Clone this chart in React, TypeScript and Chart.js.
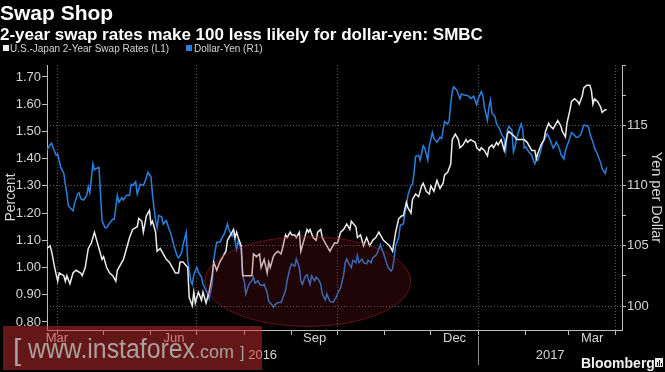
import React, { useEffect, useRef } from 'react';
import Chart from 'chart.js/auto';

const TITLE = 'Swap Shop';
const SUBTITLE = '2-year swap rates make 100 less likely for dollar-yen: SMBC';
const SWAP_NAME = 'U.S.-Japan 2-Year Swap Rates (L1)';
const YEN_NAME = 'Dollar-Yen (R1)';
const LEFT_TITLE = 'Percent';
const RIGHT_TITLE = 'Yen per Dollar';

// x values are days since 25 Mar 2016
const swapDays = [0,2,3,5,7,8,11,12,13,15,17,19,22,23,25,27,29,31,32,34,36,37,39,41,43,45,46,49,50,52,54,56,59,60,62,63,65,67,68,69,71,72,74,76,78,80,82,84,86,87,89,92,93,95,96,97,99,101,102,104,106,108,109,111,113,115,117,118,120,122,123,124,125,127,128,130,133,134,135,137,139,140,142,144,145,146,148,149,151,153,154,156,157,159,160,162,163,165,166,168,170,171,172,174,176,177,179,180,182,183,185,188,190,192,194,196,198,199,202,203,205,207,209,211,213,215,217,220,222,224,226,228,230,232,233,235,236,238,239,241,243,245,246,248,250,251,253,255,257,259,260,262,264,265,267,269,270,272,274,275,277,280,281,283,284,286,288,289,291,292,294,295,297,298,299,301,302,304,306,307,309,310,312,314,315,317,319,320,321,323,325,326,328,329,331,332,334,336,337,339,340,342,343,345,347,348,350,351,353,355,356,357,358,360,362,363,365,366];
const swapVals = [1.07,1.08,1.06,1.00,0.95,0.98,0.97,0.95,0.97,0.94,0.98,0.99,0.98,0.97,1.00,1.07,1.09,1.13,1.11,1.07,1.03,1.04,1.00,0.98,0.97,0.95,0.99,1.02,1.03,1.07,1.11,1.14,1.15,1.18,1.17,1.13,1.19,1.21,1.16,1.17,1.13,1.06,1.07,1.05,1.03,1.02,1.00,0.98,0.98,1.02,1.02,1.00,0.89,0.86,0.91,0.87,0.91,0.88,0.91,0.87,0.91,0.97,1.02,0.99,1.02,1.04,1.06,1.10,1.12,1.14,1.11,1.13,1.11,1.08,0.97,0.97,0.97,0.97,1.05,1.04,1.05,1.00,1.03,0.98,1.02,1.00,1.04,1.05,1.06,1.05,1.07,1.12,1.11,1.13,1.12,1.12,1.11,1.13,1.06,1.10,1.14,1.13,1.14,1.11,1.10,1.13,1.14,1.11,1.09,1.08,1.06,1.09,1.09,1.13,1.14,1.16,1.14,1.17,1.15,1.11,1.12,1.08,1.11,1.08,1.10,1.11,1.13,1.10,1.09,1.08,1.06,1.13,1.18,1.19,1.19,1.24,1.22,1.20,1.25,1.27,1.26,1.30,1.31,1.28,1.27,1.30,1.28,1.32,1.29,1.31,1.34,1.35,1.38,1.47,1.49,1.47,1.44,1.45,1.47,1.46,1.47,1.46,1.44,1.43,1.44,1.43,1.41,1.44,1.45,1.44,1.46,1.45,1.47,1.45,1.43,1.49,1.50,1.49,1.48,1.47,1.47,1.47,1.47,1.46,1.45,1.43,1.43,1.40,1.42,1.45,1.47,1.50,1.53,1.52,1.51,1.52,1.54,1.52,1.50,1.48,1.53,1.58,1.61,1.62,1.61,1.60,1.63,1.66,1.67,1.67,1.65,1.60,1.62,1.61,1.59,1.57,1.58,1.58];

const yenDays = [0,1,3,5,6,7,9,11,12,13,14,17,18,20,21,22,24,26,27,28,30,31,32,34,35,36,38,39,41,43,44,46,47,49,50,52,54,55,56,58,59,61,63,64,66,68,69,71,72,73,75,76,78,80,81,83,85,86,88,89,91,92,94,95,96,98,99,101,102,104,105,106,108,109,110,111,113,115,116,118,119,121,122,124,125,127,128,129,130,132,134,135,136,138,139,141,142,144,145,147,148,149,151,153,154,156,157,159,160,162,163,165,166,167,169,170,172,173,175,176,178,179,180,182,183,185,187,189,191,192,194,195,196,197,199,200,202,203,204,206,207,209,210,212,213,215,216,218,219,220,222,223,225,226,227,228,230,231,233,234,235,236,238,239,240,241,243,244,246,247,249,250,252,253,255,257,258,260,262,263,264,265,266,268,270,271,273,274,276,277,279,281,282,284,285,286,288,289,290,291,293,294,296,297,299,300,301,302,304,305,306,307,308,310,311,312,313,315,317,318,319,320,321,323,324,326,327,329,331,332,333,335,336,338,339,341,343,344,346,347,349,351,352,354,355,357,358,360,362,363,365,366];
const yenVals = [112.9,113.2,113.5,112.8,112.5,112.6,111.5,111.0,110.1,109.3,108.3,107.9,108.5,109.3,109.4,108.9,108.8,109.2,109.9,109.4,111.8,111.3,111.4,111.5,109.3,107.1,106.5,106.5,106.9,107.2,107.2,109.2,108.6,109.0,108.8,109.2,109.2,110.1,110.0,110.3,109.3,110.1,110.0,110.3,111.1,110.7,109.2,107.1,106.5,107.5,107.4,106.8,107.1,106.3,106.0,105.0,104.2,104.0,104.4,105.1,106.1,103.8,102.1,101.8,102.6,103.2,102.8,102.4,101.8,101.3,101.0,100.6,101.8,103.8,104.6,105.3,105.3,105.8,106.0,106.8,106.3,105.8,106.1,104.7,105.4,104.7,102.4,102.1,101.0,101.8,102.1,102.4,101.9,102.1,101.8,101.7,101.8,101.1,100.4,100.1,99.9,100.1,100.3,100.3,100.6,101.3,102.1,103.2,103.5,103.3,103.9,103.2,102.1,101.8,102.5,102.6,101.8,102.5,102.1,102.4,102.1,101.8,101.0,100.5,101.0,100.4,100.3,100.7,101.3,101.5,102.6,103.6,103.9,103.6,103.2,103.8,103.6,104.2,103.6,103.9,103.6,103.5,103.8,103.6,104.0,104.2,104.4,105.1,104.7,104.4,103.6,103.2,102.9,103.1,104.0,105.0,105.7,106.7,106.8,107.6,108.3,109.2,110.0,110.1,111.0,112.4,112.5,112.1,113.3,113.1,112.1,113.3,114.4,113.9,113.6,114.0,113.9,115.3,115.1,115.4,116.8,117.8,118.2,117.9,117.2,117.6,117.5,117.5,117.4,117.2,117.4,116.7,117.2,117.8,117.5,116.5,115.4,116.5,117.1,116.0,115.7,115.1,114.7,114.3,113.9,112.9,114.6,114.9,114.6,112.8,113.2,113.9,114.3,115.1,114.7,113.1,113.2,112.8,112.5,112.1,111.8,112.2,112.1,112.9,113.5,114.0,114.3,113.8,113.1,113.3,113.6,113.1,112.6,112.2,112.9,113.6,114.4,114.3,114.0,114.0,114.2,115.0,115.0,114.9,114.3,113.6,113.1,112.6,111.9,111.4,111.0,111.5];

// axis layout values
const X_MIN = 0;
const X_MAX = 376;
const monthStartDays = [7, 37, 68, 98, 129, 160, 190, 221, 251, 282, 313, 341, 372];
const quarterStartDays = [7, 98, 190, 282, 372];
const monthLabels = ['Mar', 'Jun', 'Sep', 'Dec', 'Mar'];
const monthLabelDays = [6.5, 83, 175, 266.5, 356.5];
const yearLabels = ['2016', '2017'];
const yearStartDays = [0, 282];

const leftTicks = [0.8, 0.9, 1.0, 1.1, 1.2, 1.3, 1.4, 1.5, 1.6, 1.7];
const LEFT_MIN = 0.7706;
const LEFT_MAX = 1.744;
const rightTicks = [100, 102.5, 105, 107.5, 110, 112.5, 115, 117.5, 120];
const rightLabelled = [100, 105, 110, 115];
const RIGHT_MIN = 98.01;
const RIGHT_MAX = 120;

// highlighted region (x in days, y in percent)
const HIGHLIGHT = { day: 170.5, halfDays: 67.3, pct: 0.9487, halfPct: 0.165 };

const FONT = "'Liberation Sans', Arial, sans-serif";
const WHITE_LINE = '#ececec';
const BLUE_LINE = '#2b80dd';
const TEXT = '#d6d6d6';
const AXIS = '#bdbdbd';
const GRID = '#5c5c5c';

const decoPlugin = {
  id: 'deco',
  beforeDraw(chart: any) {
    const ctx = chart.ctx;
    ctx.save();
    ctx.fillStyle = '#000';
    ctx.fillRect(0, 0, chart.width, chart.height);
    ctx.restore();
  },
  afterDatasetsDraw(chart: any) {
    const ctx = chart.ctx;
    const xs = chart.scales.x;
    const ys = chart.scales.y;
    const cx = xs.getPixelForValue(HIGHLIGHT.day);
    const rx = xs.getPixelForValue(HIGHLIGHT.day + HIGHLIGHT.halfDays) - cx;
    const cy = ys.getPixelForValue(HIGHLIGHT.pct);
    const ry = cy - ys.getPixelForValue(HIGHLIGHT.pct + HIGHLIGHT.halfPct);
    ctx.save();
    ctx.beginPath();
    ctx.ellipse(cx, cy, rx, ry, 0, 0, Math.PI * 2);
    ctx.fillStyle = 'rgba(135,20,28,0.24)';
    ctx.fill();
    ctx.strokeStyle = 'rgba(150,30,36,0.6)';
    ctx.lineWidth = 1;
    ctx.stroke();
    ctx.restore();
  },
  afterDraw(chart: any) {
    const ctx = chart.ctx;
    const xs = chart.scales.x;
    ctx.save();
    // header
    ctx.fillStyle = '#ffffff';
    ctx.textBaseline = 'alphabetic';
    ctx.textAlign = 'left';
    ctx.font = `bold 21px ${FONT}`;
    ctx.fillText(TITLE, 0, 20);
    ctx.font = `bold 17px ${FONT}`;
    ctx.fillText(SUBTITLE, 0, 40);
    // legend
    ctx.font = `10px ${FONT}`;
    ctx.fillStyle = WHITE_LINE;
    ctx.fillRect(3, 45, 6, 6);
    ctx.fillStyle = TEXT;
    ctx.fillText(SWAP_NAME, 10, 52, 166);
    ctx.fillStyle = BLUE_LINE;
    ctx.fillRect(186, 45, 6, 6);
    ctx.fillStyle = TEXT;
    ctx.fillText(YEN_NAME, 194, 52, 75);
    // years
    ctx.font = `13px ${FONT}`;
    ctx.textAlign = 'center';
    ctx.textBaseline = 'middle';
    yearLabels.forEach((lab, i) => {
      const a = yearStartDays[i];
      const b = i + 1 < yearStartDays.length ? yearStartDays[i + 1] : X_MAX;
      ctx.fillText(lab, xs.getPixelForValue((a + b) / 2), 355);
    });
    for (let i = 1; i < yearStartDays.length; i++) {
      const px = Math.round(xs.getPixelForValue(yearStartDays[i])) + 0.5;
      ctx.strokeStyle = '#8a8a8a';
      ctx.lineWidth = 1;
      ctx.beginPath();
      ctx.moveTo(px, 336);
      ctx.lineTo(px, 365);
      ctx.stroke();
    }
    // Bloomberg mark
    ctx.textAlign = 'left';
    ctx.textBaseline = 'alphabetic';
    ctx.fillStyle = '#f0f0f0';
    ctx.font = `bold 14px ${FONT}`;
    ctx.fillText('Bloomberg', 581, 368);
    ctx.fillStyle = '#e8e8e8';
    ctx.fillRect(655, 358, 8, 9);
    ctx.fillStyle = '#000';
    ctx.fillRect(657, 362, 1, 4);
    ctx.fillRect(659, 360, 1, 6);
    ctx.fillRect(661, 363, 1, 3);
    // watermark
    ctx.fillStyle = 'rgba(200,45,45,0.5)';
    ctx.fillRect(3, 326, 259, 44);
    ctx.fillStyle = 'rgba(185,185,185,0.85)';
    ctx.font = `300 30px ${FONT}`;
    ctx.fillText('[', 13, 360);
    ctx.font = `27px ${FONT}`;
    ctx.fillText('www.instaforex', 28, 358, 167);
    ctx.font = `18px ${FONT}`;
    ctx.fillText('.com', 195, 358, 42);
    ctx.font = `16px ${FONT}`;
    ctx.fillText(']', 240, 358);
    ctx.restore();
  },
};

const xTickValues = [...monthStartDays, ...monthLabelDays].sort((a, b) => a - b);

export default function App() {
  const ref = useRef<HTMLCanvasElement | null>(null);
  useEffect(() => {
    document.body.style.margin = '0';
    document.body.style.background = '#000';
    const canvas = ref.current;
    if (!canvas) return;
    Chart.defaults.font.family = FONT;
    const chart = new Chart(canvas, {
      type: 'line',
      data: {
        datasets: [
          {
            label: SWAP_NAME,
            data: swapDays.map((d, i) => ({ x: d, y: swapVals[i] })),
            borderColor: WHITE_LINE,
            borderWidth: 1.5,
            pointRadius: 0,
            tension: 0,
            yAxisID: 'y',
          },
          {
            label: YEN_NAME,
            data: yenDays.map((d, i) => ({ x: d, y: yenVals[i] })),
            borderColor: BLUE_LINE,
            borderWidth: 1.5,
            pointRadius: 0,
            tension: 0,
            yAxisID: 'y1',
          },
        ],
      },
      plugins: [decoPlugin],
      options: {
        animation: false,
        responsive: false,
        devicePixelRatio: 1,
        layout: { padding: { top: 65, left: 0, right: 0, bottom: 0 } },
        plugins: { legend: { display: false }, tooltip: { enabled: false } },
        scales: {
          x: {
            type: 'linear',
            min: X_MIN,
            max: X_MAX,
            afterBuildTicks: (axis: any) => {
              axis.ticks = xTickValues.map((v) => ({ value: v }));
            },
            afterFit: (axis: any) => {
              axis.height = 42;
            },
            ticks: {
              autoSkip: false,
              maxRotation: 0,
              minRotation: 0,
              padding: -4,
              color: TEXT,
              font: { size: 13 },
              callback: (v: any) => {
                const i = monthLabelDays.indexOf(Number(v));
                return i >= 0 ? monthLabels[i] : '';
              },
            },
            grid: {
              color: (c: any) => (c.tick && quarterStartDays.includes(c.tick.value) ? GRID : 'transparent'),
              tickColor: (c: any) => (c.tick && monthStartDays.includes(c.tick.value) ? AXIS : 'transparent'),
              tickLength: 5,
              lineWidth: 1,
            },
            border: { color: AXIS, dash: [1, 2] },
          },
          y: {
            type: 'linear',
            position: 'left',
            min: LEFT_MIN,
            max: LEFT_MAX,
            afterBuildTicks: (axis: any) => {
              axis.ticks = leftTicks.map((v) => ({ value: v }));
            },
            afterFit: (axis: any) => {
              axis.width = 47;
            },
            ticks: {
              padding: 1,
              color: TEXT,
              font: { size: 13 },
              callback: (v: any) => Number(v).toFixed(2),
            },
            grid: { drawOnChartArea: false, tickLength: 5, tickColor: AXIS },
            border: { color: AXIS },
            title: {
              display: true,
              text: LEFT_TITLE,
              color: TEXT,
              font: { size: 14 },
              padding: { top: 3, bottom: 0 },
            },
          },
          y1: {
            type: 'linear',
            position: 'right',
            min: RIGHT_MIN,
            max: RIGHT_MAX,
            afterBuildTicks: (axis: any) => {
              axis.ticks = rightTicks.map((v) => ({ value: v }));
            },
            afterFit: (axis: any) => {
              axis.width = 43;
            },
            ticks: {
              padding: 1,
              color: TEXT,
              font: { size: 13 },
              callback: (v: any) => (rightLabelled.includes(Number(v)) ? String(v) : ''),
            },
            grid: {
              drawOnChartArea: true,
              color: (c: any) => (c.tick && rightLabelled.includes(c.tick.value) ? GRID : 'transparent'),
              tickColor: AXIS,
              tickLength: 4,
            },
            border: { color: AXIS, dash: [1, 2] },
            title: {
              display: true,
              text: RIGHT_TITLE,
              color: TEXT,
              font: { size: 14.5 },
              padding: { top: 0, bottom: 0 },
            },
          },
        },
      },
    } as any);
    return () => chart.destroy();
  }, []);
  return <canvas ref={ref} width={665} height={372} style={{ display: 'block' }} />;
}
